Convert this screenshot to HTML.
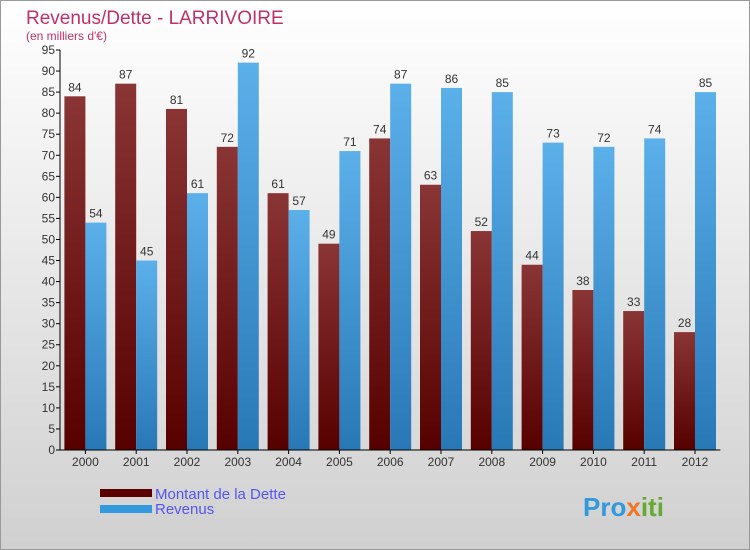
<!DOCTYPE html>
<html><head><meta charset="utf-8"><style>
body{margin:0}
svg{display:block;font-family:"Liberation Sans",sans-serif}
</style></head><body>
<svg width="750" height="550">
<defs>
<linearGradient id="bg" x1="0" y1="0" x2="0" y2="1"><stop offset="0" stop-color="#ffffff"/><stop offset="1" stop-color="#d0d0d0"/></linearGradient>
<linearGradient id="gd" x1="0" y1="0" x2="0" y2="1"><stop offset="0" stop-color="#8a3535"/><stop offset="1" stop-color="#560000"/></linearGradient>
<linearGradient id="gr" x1="0" y1="0" x2="0" y2="1"><stop offset="0" stop-color="#5cb0ea"/><stop offset="1" stop-color="#2878b5"/></linearGradient>
</defs>
<rect x="0.5" y="0.5" width="749" height="549" fill="url(#bg)" stroke="#999"/>
<text x="26" y="24" font-size="19" fill="#c0306a">Revenus/Dette - LARRIVOIRE</text>
<text x="26" y="40" font-size="12" fill="#c0306a">(en milliers d'€)</text>
<g id="plot"></g>
<rect x="100" y="489" width="52" height="8" fill="#5a0000"/>
<text x="155" y="499" font-size="15" fill="#5555ee">Montant de la Dette</text>
<rect x="100" y="505" width="52" height="8" fill="#3399dd"/>
<text x="155" y="514" font-size="15" fill="#5555ee">Revenus</text>
<text x="583" y="516" font-size="26" font-weight="bold" fill="#3399dd">Pro<tspan fill="#ee7722">x</tspan><tspan fill="#66aa33">iti</tspan></text>
</svg>
<script>
const years=["2000","2001","2002","2003","2004","2005","2006","2007","2008","2009","2010","2011","2012"];
const dette=[84,87,81,72,61,49,74,63,52,44,38,33,28];
const revenus=[54,45,61,92,57,71,87,86,85,73,72,74,85];
const ticks=[0,5,10,15,20,25,30,35,40,45,50,55,60,65,70,75,80,85,90,95];
const NS="http://www.w3.org/2000/svg";
const g=document.getElementById('plot');
const x0=60,step=50.8,y0=450,yMax=95,h=400;
const y=v=>y0-v/yMax*h;
function el(t,a,txt){const e=document.createElementNS(NS,t);for(const k in a)e.setAttribute(k,a[k]);if(txt!=null)e.textContent=txt;g.appendChild(e);return e;}
ticks.forEach(t=>{
 const l=el('line',{x1:x0-4,x2:x0,y1:y(t),y2:y(t),stroke:'#000'});
 
 
 const tx=el('text',{x:x0-5,y:y(t)+4,'font-size':12,'text-anchor':'end',fill:'#333'},t);
 
 
});
years.forEach((yr,i)=>{
 const c=x0+step*(i+0.5);
 const b1=el('rect',{x:c-21,y:y(dette[i]),width:21,height:y0-y(dette[i]),fill:'url(#gd)'});
 
 
 const b2=el('rect',{x:c,y:y(revenus[i]),width:21,height:y0-y(revenus[i]),fill:'url(#gr)'});
 
 
 const l1=el('text',{x:c-10.5,y:y(dette[i])-5,'font-size':12,'text-anchor':'middle',fill:'#333'},dette[i]);
 
 
 const l2=el('text',{x:c+10.5,y:y(revenus[i])-5,'font-size':12,'text-anchor':'middle',fill:'#333'},revenus[i]);
 
 
 const xt=el('line',{x1:c,x2:c,y1:y0,y2:y0+4,stroke:'#000'});
 
 
 const xl=el('text',{x:c,y:y0+16,'font-size':12,'text-anchor':'middle',fill:'#333'},yr);
 
 
});
const ax=el('line',{x1:x0,x2:x0,y1:y(yMax),y2:y0,stroke:'#000'});


const bx=el('line',{x1:x0,x2:x0+step*years.length,y1:y0,y2:y0,stroke:'#000'});


</script>
</body></html>
